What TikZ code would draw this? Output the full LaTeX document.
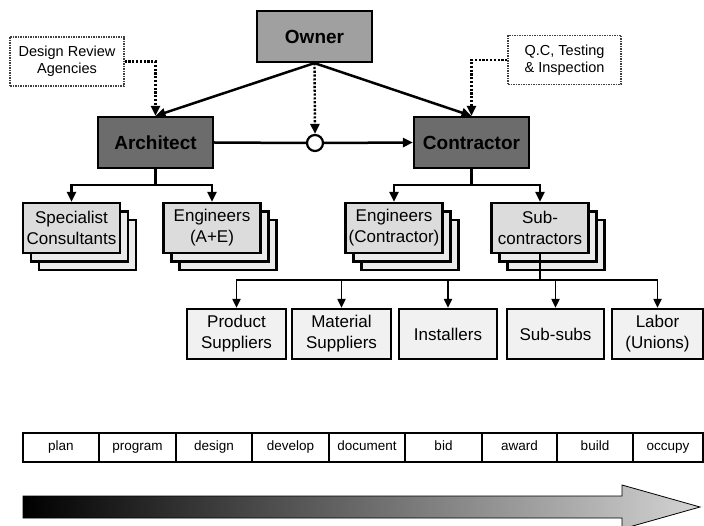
\documentclass[tikz,border=0pt]{standalone}
\usepackage{fontspec}
\setmainfont{Liberation Sans}
\usetikzlibrary{arrows.meta,shadows}
\definecolor{ownerfill}{HTML}{A0A0A0}
\definecolor{archfill}{HTML}{6C6C6C}
\definecolor{subfill}{HTML}{DCDCDC}
\definecolor{backfill}{HTML}{EAEAEA}
\definecolor{leaffill}{HTML}{F1F1F1}
\begin{document}
\begin{tikzpicture}[x=1pt,y=-1pt,
  box/.style={draw, line width=2.2pt, inner sep=0pt, align=center},
  bigbox/.style={box, minimum width=115pt, minimum height=51pt, font=\fontsize{19}{22}\selectfont\bfseries},
  notebox/.style={draw=black!75, line width=1.1pt, dash pattern=on 1.5pt off 1pt, inner sep=0pt, align=center, minimum height=49pt, font=\fontsize{14.5}{17}\selectfont},
  stackbox/.style={box, fill=subfill, minimum width=97pt, minimum height=50pt, font=\fontsize{17}{21}\selectfont,
    double copy shadow={shadow xshift=8pt, shadow yshift=-8.5pt, fill=backfill, draw=black, line width=2.2pt}},
  leafbox/.style={box, fill=leaffill, minimum height=50pt, font=\fontsize{17}{21}\selectfont},
  cell/.style={draw, line width=1.5pt, inner sep=0pt, minimum height=29pt, text height=9.5pt, text depth=3pt, font=\fontsize{13.5}{15}\selectfont},
  conn/.style={line width=2.5pt, -{Triangle[length=10pt,width=9pt]}},
  plain/.style={line width=2.5pt},
  dots/.style={line width=2.4pt, dash pattern=on 2.2pt off 1.6pt, -{Triangle[length=10pt,width=9pt]}},
  busarrow/.style={line width=1.9pt, -{Triangle[length=9pt,width=8pt]}}
]
\useasboundingbox (0,0) rectangle (704,526);

% top level
\node[bigbox, fill=ownerfill] (owner) at (314.5,36.5) {Owner};
\node[bigbox, fill=archfill] (architect) at (155.5,142.5) {Architect};
\node[bigbox, fill=archfill] (contractor) at (471.5,142.5) {Contractor};
\node[notebox, minimum width=114pt] (dra) at (67,61.5) {Design Review\\Agencies};
\node[notebox, minimum width=113pt] (qc) at (564.5,60) {Q.C, Testing\\\& Inspection};
\node[circle, draw, line width=2.2pt, fill=white, minimum size=16pt, inner sep=0pt] (circ) at (315,143) {};

\draw[conn] (owner.south) -- (architect.north);
\draw[conn] (owner.south) -- (contractor.north);
\draw[dots] (owner.south) -- (circ.north);
\draw[dots] (dra.east) -| (architect.north);
\draw[dots] (qc.west) -| (contractor.north);
\draw[plain] (architect.east) -- (circ.west);
\draw[conn] (circ.east) -- (contractor.west);

% second level
\node[stackbox] (spec) at (71.5,228) {Specialist\\Consultants};
\node[stackbox] (enga) at (212,228) {Engineers\\(A+E)};
\node[stackbox] (engc) at (394,228) {Engineers\\(Contractor)};
\node[stackbox] (subc) at (540,228) {Sub-\\contractors};

\coordinate (abus) at (155.5,185);
\coordinate (cbus) at (471.5,185);
\draw[plain] (architect.south) -- (abus);
\draw[conn] (abus) -| (spec.north);
\draw[conn] (abus) -| (enga.north);
\draw[plain] (contractor.south) -- (cbus);
\draw[conn] (cbus) -| (engc.north);
\draw[conn] (cbus) -| (subc.north);

% third level
\node[leafbox, minimum width=99pt] (prod) at (236.5,334) {Product\\Suppliers};
\node[leafbox, minimum width=99pt] (mat) at (341.5,334) {Material\\Suppliers};
\node[leafbox, minimum width=98pt] (inst) at (448,334) {Installers};
\node[leafbox, minimum width=97pt] (subs) at (555.5,334) {Sub-subs};
\node[leafbox, minimum width=91pt] (labor) at (657.5,334) {Labor\\(Unions)};

\coordinate (sbus) at (540,280);
\draw[line width=1.9pt] (subc.south) -- (sbus);
\foreach \n in {prod,mat,inst,subs,labor}
  \draw[busarrow] (sbus) -| (\n.north);

% phases
\foreach \c/\w/\t [count=\i] in {61/76/plan, 137.5/77/program, 214/76/design, 290.5/77/develop, 367/76/document, 443.5/77/bid, 519.5/75/award, 595/76/build, 668/70/occupy}
  \node[cell, minimum width=\w pt] (p\i) at (\c,447.5) {\t};

% time arrow
\shadedraw[left color=black, middle color=black!50, right color=black!17, line width=0.8pt] (23,496) -- (622,496) -- (622,485) -- (700,507) -- (622,529) -- (622,518) -- (23,518) -- cycle;
\end{tikzpicture}
\end{document}
